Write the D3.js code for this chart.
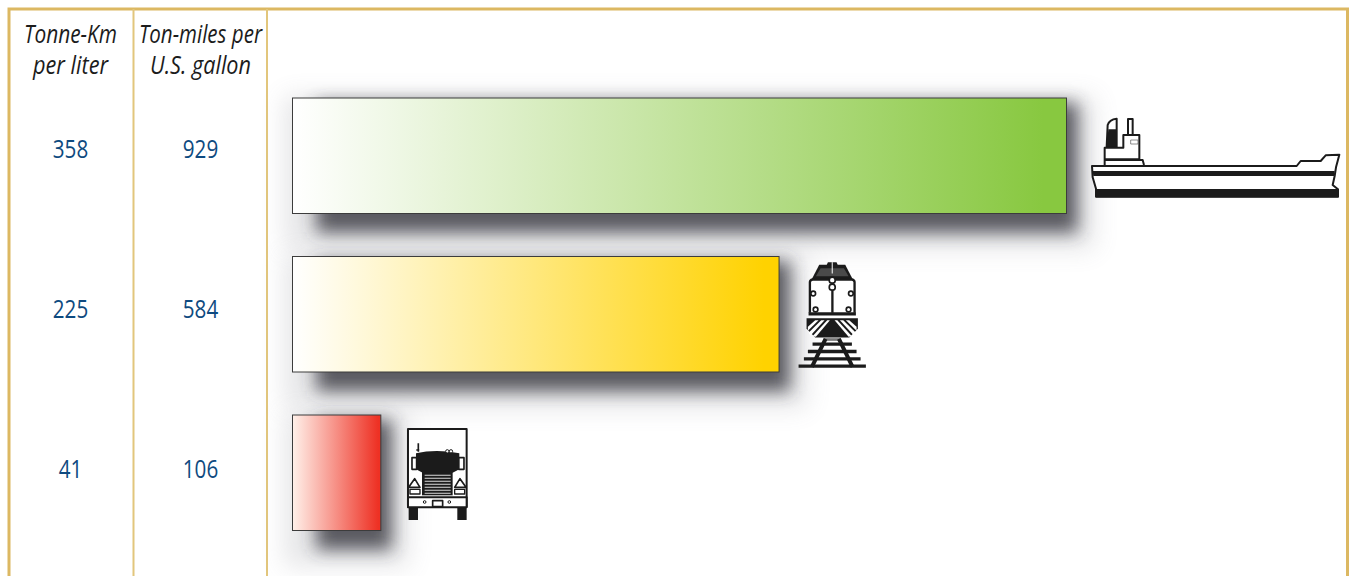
<!DOCTYPE html>
<html><head><meta charset="utf-8">
<script src="https://cdn.jsdelivr.net/npm/d3@7"></script>
<style>html,body{margin:0;padding:0;background:#fff;overflow:hidden}svg{display:block}</style>
</head><body><svg id="c" width="1349" height="576"></svg>
<script>
const modes = ["ship","train","truck"];
const tonneKm = [358,225,41];
const tonMiles = [929,584,106];
const barStartColors = ["#ffffff","#ffffff","#fff1ea"];
const barEndColors = ["#88c840","#ffd200","#ee3124"];
const headers = [["Tonne-Km","per liter"],["Ton-miles per","U.S. gallon"]];

const svg = d3.select("#c");
const W=1349,H=576;
const x = d3.scaleLinear().domain([0,929]).range([292.5,1066.5]);
const y = d3.scaleBand().domain(modes).range([98,530.5]).paddingInner(0.2713).paddingOuter(0);
const rowY = d3.scalePoint().domain(modes).range([148,468]);
const defs = svg.append("defs");
function blurF(id,s){
  defs.append("filter").attr("id",id).attr("filterUnits","userSpaceOnUse").attr("x",0).attr("y",0).attr("width",W).attr("height",H+100)
    .append("feGaussianBlur").attr("stdDeviation",s);
}
blurF("sh",8.5); blurF("sw",12);
modes.forEach((m,i)=>{
  const g=defs.append("linearGradient").attr("id","g"+i);
  g.append("stop").attr("offset",0).attr("stop-color",barStartColors[i]);
  g.append("stop").attr("offset",.97).attr("stop-color",barEndColors[i]);
});

// frame
const gold="#dcb862", goldL="#e2c67c";
svg.append("path").attr("d",`M${9} ${H} V9 H${W-1.5} V${H}`).attr("fill","none").attr("stroke",gold).attr("stroke-width",3);
[133.5,267].forEach(v=>svg.append("line").attr("x1",v).attr("x2",v).attr("y1",9).attr("y2",H).attr("stroke",goldL).attr("stroke-width",2));

// headers
const colX=[70.5,200.5], hw=[[93,75],[123,101]];
headers.forEach((h,c)=>h.forEach((t,l)=>{
  svg.append("text").attr("x",colX[c]).attr("y",43+l*31).attr("text-anchor","middle")
   .attr("font-family","'Open Sans'").attr("font-style","italic").attr("font-size",25)
   .attr("fill","#1c1c1c").attr("textLength",hw[c][l]).attr("lengthAdjust","spacingAndGlyphs").text(t);
}));
// values
[tonneKm,tonMiles].forEach((a,c)=>a.forEach((v,i)=>{
  svg.append("text").attr("x",colX[c]).attr("y",rowY(modes[i])+9.5).attr("text-anchor","middle")
   .attr("font-family","'Open Sans'").attr("font-size",25).attr("fill","#0e4a80")
   .attr("textLength",String(v).length*11.8).attr("lengthAdjust","spacingAndGlyphs").text(v);
}));

// shadows first, so they never cover a bar
modes.forEach((m,i)=>{
  const x0=x(0),x1=x(tonMiles[i]),y0=y(m),h=y.bandwidth();
  svg.append("rect").attr("x",x0-8).attr("y",y0-2).attr("width",x1-x0+36).attr("height",h+38)
    .attr("fill","#7a7b85").attr("opacity",.19).attr("filter","url(#sw)");
  svg.append("rect").attr("x",x0+24).attr("y",y0+5).attr("width",x1-x0-13).attr("height",h+14)
    .attr("fill","#3a3b42").attr("opacity",.82).attr("filter","url(#sh)");
});
// bars
modes.forEach((m,i)=>{
  const x0=x(0),x1=x(tonMiles[i]),y0=y(m),h=y.bandwidth();
  svg.append("rect").attr("x",x0).attr("y",y0).attr("width",x1-x0).attr("height",h)
    .attr("fill",`url(#g${i})`).attr("stroke","#3c3c3c").attr("stroke-width",1);
});

// icons are drawn in a 3x local grid, anchored to each bar's end
const k="#1b1b1b";
function icon(m,dx,dy){
  return svg.append("g").attr("transform",`translate(${x(tonMiles[modes.indexOf(m)])+dx},${y(m)+dy}) scale(${1/3})`);
}
function P(g,d,f,s,w){return g.append("path").attr("d",d).attr("fill",f||"none").attr("stroke",s||"none").attr("stroke-width",w||0).attr("stroke-linejoin","round");}

// ship
const sh=icon("ship",-6.5,-8);
P(sh,"M140 170 L143 105 Q148 88 170 86 L170 170 Z","#fff",k,6);
P(sh,"M140 170 L145 118 L168 118 L168 170 Z",k);
P(sh,"M204 135 V87 H218 V135","#fff",k,6);
P(sh,"M134 225 V173 H190 V135 H238 V208 H134","#fff",k,6);
P(sh,"M212 150 H234 V162 H212 Z","#fff","#555",2);
P(sh,"M134 210 H248 L252 225","none",k,6);
P(sh,"M96 228 H710 L722 213 H782 L797 196 L838 194 L828 232 L824 258 L818 285 L834 298 V320 H108 V296 L98 262 Z","#fff",k,6);
P(sh,"M98 243 H824 L822 258 H100 Z",k);
P(sh,"M108 297 H836 V322 H108 Z",k);

// train
const tr=icon("train",-8.5,-7);
P(tr,"M172 38 H198 L202 47 H168 Z",k);
P(tr,"M146 46 H224 L248 92 H122 Z",k);
P(tr,"M136 80 L150 56 H220 L234 80 Z","#4a4a4a");
P(tr,"M185 38 V72","none","#fff",3);
P(tr,"M118 190 V98 Q118 92 126 90 H244 Q252 92 252 98 V190","#fff",k,7);
P(tr,"M182 96 H189 V190 H182 Z",k);
[[185,92,9],[185,113,9],[128,132,7],[241,132,7],[135,180,7],[234,180,7]].forEach(c=>
  tr.append("circle").attr("cx",c[0]).attr("cy",c[1]).attr("r",c[2]).attr("fill","#fff").attr("stroke",k).attr("stroke-width",5));
P(tr,"M114 188 H256 V198 H114 Z",k);
P(tr,"M108 206 H262 V238 L236 264 H134 L108 238 Z",k);
["M112 232 L134 212 H144 L112 244 Z","M114 250 L152 212 H162 L120 258 Z","M126 260 L170 212 H178 L136 262 Z",
 "M258 232 L236 212 H226 L258 244 Z","M256 250 L218 212 H208 L250 258 Z","M244 260 L200 212 H192 L234 262 Z"]
  .forEach(d=>P(tr,d,"#fff"));
P(tr,"M160 266 H210 V274 H160 Z","#777");
P(tr,"M165 268 L124 352 M205 268 L246 352","none",k,12);
[[126,244,284,10],[112,258,306,10],[100,270,328,10],[84,286,350,10]].forEach(t=>P(tr,`M${t[0]} ${t[2]} H${t[1]}`,"none",k,t[3]));

// truck
const tk=icon("truck",-11.5,-5);
P(tk,"M116 290 V57 H292 V290 Z","#fff",k,6);
P(tk,"M118 292 H146 V330 H118 Z M264 292 H292 V330 H264 Z",k);
P(tk,"M147 100 V125 M141 120 H150","none",k,5);
P(tk,"M128 143 H142 V178 H128 Z M268 143 H284 V178 H268 Z","#fff",k,5);
P(tk,"M140 178 V130 Q200 116 270 130 V178 L250 188 H160 Z",k);
tk.append("circle").attr("cx",234).attr("cy",124).attr("r",5).attr("fill","#fff").attr("stroke",k).attr("stroke-width",3);
tk.append("circle").attr("cx",245).attr("cy",124).attr("r",5).attr("fill","#fff").attr("stroke",k).attr("stroke-width",3);
P(tk,"M158 186 H250 V256 H158 Z",k);
d3.range(196,252,9).forEach(v=>P(tk,`M166 ${v} H244`,"none","#aaa",4));
P(tk,"M118 232 L136 206 L152 232 Z M256 232 L272 206 L290 232 Z","#fff",k,5);
P(tk,"M122 238 H152 V252 H122 Z M256 238 H286 V252 H256 Z","#fff",k,4);
P(tk,"M116 262 H292 V292 H116 Z","#fff",k,6);
P(tk,"M190 272 H220 V290 H190 Z","#fff",k,5);
tk.append("circle").attr("cx",166).attr("cy",276).attr("r",4).attr("fill","#fff").attr("stroke",k).attr("stroke-width",3);
tk.append("circle").attr("cx",240).attr("cy",276).attr("r",4).attr("fill","#fff").attr("stroke",k).attr("stroke-width",3);
</script></body></html>
